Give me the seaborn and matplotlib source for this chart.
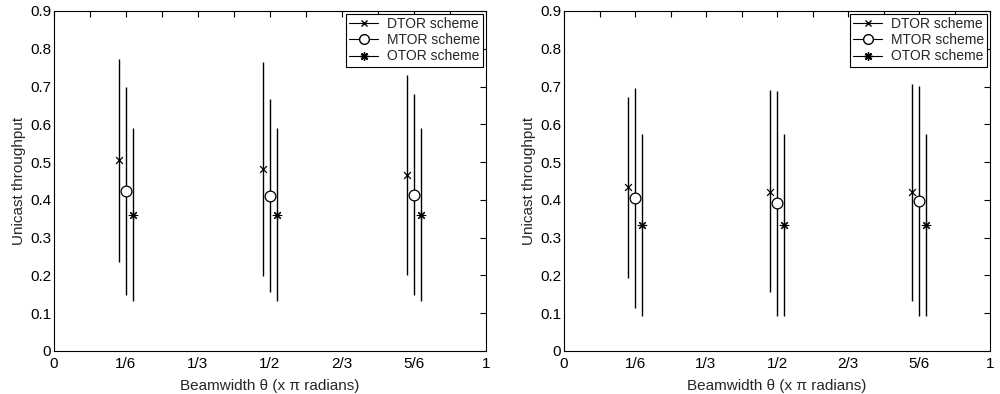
import numpy as np
import pandas as pd
import matplotlib
matplotlib.use("Agg")
import matplotlib.pyplot as plt
from matplotlib.lines import Line2D
from matplotlib.ticker import FixedLocator, FixedFormatter
import seaborn as sns

# Beamwidth settings (fractions of pi)
beamwidths = [1 / 6, 1 / 2, 5 / 6]
schemes = ["DTOR scheme", "MTOR scheme", "OTOR scheme"]

# Left panel: mean throughput and min/max range per scheme
left_dtor_mean = [0.505, 0.482, 0.466]
left_dtor_lo = [0.235, 0.198, 0.200]
left_dtor_hi = [0.772, 0.765, 0.730]
left_mtor_mean = [0.424, 0.411, 0.413]
left_mtor_lo = [0.147, 0.155, 0.147]
left_mtor_hi = [0.698, 0.667, 0.679]
left_otor_mean = [0.360, 0.360, 0.360]
left_otor_lo = [0.133, 0.133, 0.133]
left_otor_hi = [0.590, 0.590, 0.590]

# Right panel
right_dtor_mean = [0.433, 0.422, 0.420]
right_dtor_lo = [0.193, 0.155, 0.132]
right_dtor_hi = [0.673, 0.690, 0.706]
right_mtor_mean = [0.405, 0.391, 0.397]
right_mtor_lo = [0.115, 0.092, 0.092]
right_mtor_hi = [0.695, 0.688, 0.701]
right_otor_mean = [0.333, 0.333, 0.333]
right_otor_lo = [0.092, 0.092, 0.092]
right_otor_hi = [0.574, 0.574, 0.574]

x_ticks = [i / 12 for i in range(13)]
x_labels = ["0", "", "1/6", "", "1/3", "", "1/2", "", "2/3", "", "5/6", "", "1"]
y_ticks = [round(0.1 * i, 1) for i in range(10)]
y_labels = ["0"] + [f"{v:.1f}" for v in y_ticks[1:]]

sns.set_style("white")
plt.rcParams["font.family"] = ["Liberation Sans", "DejaVu Sans"]
plt.rcParams["font.size"] = 11

ASTERISK = (8, 2, 0)
styles = {
    "DTOR scheme": dict(marker="x", s=24, lw=0.9, offset=-0.017),
    "MTOR scheme": dict(marker="o", s=60, lw=0.9, offset=0.0),
    "OTOR scheme": dict(marker=ASTERISK, s=38, lw=0.8, offset=0.017),
}


def build_frame(series):
    rows = []
    for scheme, (mean, lo, hi) in zip(schemes, series):
        for b, m, l, h in zip(beamwidths, mean, lo, hi):
            rows.append(dict(scheme=scheme, beamwidth=b, mean=m, lo=l, hi=h))
    return pd.DataFrame(rows)


def draw_panel(ax, df):
    for scheme in schemes:
        sub = df[df.scheme == scheme].copy()
        st = styles[scheme]
        sub["xpos"] = sub["beamwidth"] + st["offset"]
        ax.vlines(sub["xpos"], sub["lo"], sub["hi"], color="black", lw=1.0, zorder=2)
        if st["marker"] == "o":
            sns.scatterplot(data=sub, x="xpos", y="mean", ax=ax, marker="o",
                            s=st["s"], facecolors="white", edgecolor="black",
                            linewidth=st["lw"], zorder=3, legend=False)
        else:
            sns.scatterplot(data=sub, x="xpos", y="mean", ax=ax, marker=st["marker"],
                            s=st["s"], color="black", linewidth=st["lw"], zorder=3,
                            legend=False)

    ax.set_xlim(0, 1)
    ax.set_ylim(0, 0.9)
    ax.xaxis.set_major_locator(FixedLocator(x_ticks))
    ax.xaxis.set_major_formatter(FixedFormatter(x_labels))
    ax.yaxis.set_major_locator(FixedLocator(y_ticks))
    ax.yaxis.set_major_formatter(FixedFormatter(y_labels))
    ax.tick_params(direction="in", length=4, width=0.8, top=True, right=True,
                   labelsize=11, pad=2, colors="black")
    ax.tick_params(axis="x", pad=4)
    for sp in ax.spines.values():
        sp.set_color("black")
        sp.set_linewidth(0.8)
    ax.set_xlabel("Beamwidth θ (x π radians)", fontsize=11, labelpad=6)
    ax.set_ylabel("Unicast throughput", fontsize=11, labelpad=3)

    handles = [
        Line2D([], [], color="black", lw=0.8, marker="x", markersize=5),
        Line2D([], [], color="black", lw=0.8, marker="o", markersize=7,
               markerfacecolor="white"),
        Line2D([], [], color="black", lw=0.8, marker=ASTERISK, markersize=6),
    ]
    leg = ax.legend(handles, schemes, loc="upper right", fontsize=10,
                    frameon=True, fancybox=False, edgecolor="black",
                    framealpha=1, borderaxespad=0.2, handlelength=2.1,
                    handletextpad=0.6, labelspacing=0.15, borderpad=0.25)
    leg.get_frame().set_linewidth(0.8)


fig = plt.figure(figsize=(10, 3.94), dpi=100)
ax_left = fig.add_axes([0.054, 43 / 394, 0.432, 340 / 394])
ax_right = fig.add_axes([0.564, 43 / 394, 0.426, 340 / 394])

left_df = build_frame([
    (left_dtor_mean, left_dtor_lo, left_dtor_hi),
    (left_mtor_mean, left_mtor_lo, left_mtor_hi),
    (left_otor_mean, left_otor_lo, left_otor_hi),
])
right_df = build_frame([
    (right_dtor_mean, right_dtor_lo, right_dtor_hi),
    (right_mtor_mean, right_mtor_lo, right_mtor_hi),
    (right_otor_mean, right_otor_lo, right_otor_hi),
])

draw_panel(ax_left, left_df)
draw_panel(ax_right, right_df)

fig.savefig("out.png", dpi=100, facecolor="white")
